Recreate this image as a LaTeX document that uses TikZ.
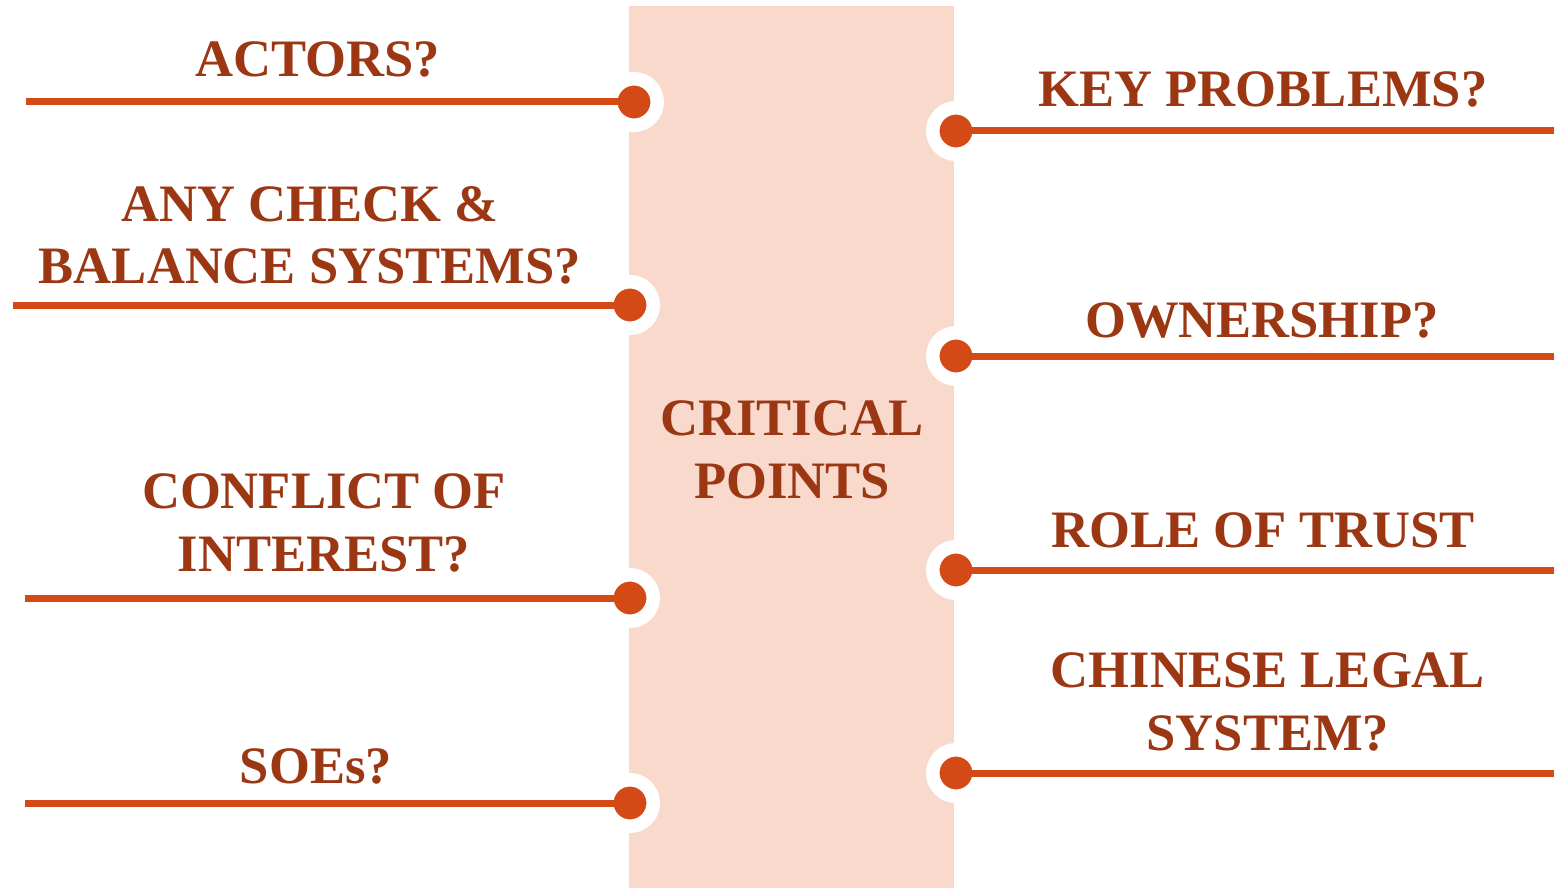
\documentclass[tikz,border=0pt]{standalone}
\usepackage{fontspec}
\setmainfont{Liberation Serif}
\usetikzlibrary{positioning}
\definecolor{bandpink}{HTML}{F8D9CC}
\definecolor{dotorange}{HTML}{D34A17}
\definecolor{textrust}{HTML}{9C3714}
\tikzset{dot/.style={shape=circle, fill=dotorange, draw=white, line width=6.75pt,
    inner sep=0pt, minimum size=23.25pt}}
\tikzset{link/.style={draw=dotorange, line width=3.5pt}}
\tikzset{question/.style={text=textrust, font=\bfseries\fontsize{26.3}{31.5}\selectfont,
    align=center, inner sep=0pt, anchor=base}}

\begin{document}
\begin{tikzpicture}[x=0.5pt, y=-0.5pt]
    \useasboundingbox (0,0) rectangle (1554,888);

    %%%% band
    \path[fill=bandpink] (629,6) rectangle (954,888);

    %%%% Left dots
    \node[dot](l1) at (634,102) {};
    \node[dot](l2) at (630,305) {};
    \node[dot](l3) at (630,598) {};
    \node[dot](l4) at (630,803) {};

    %%%% Right dots
    \node[dot](r1) at (956,131) {};
    \node[dot](r2) at (956,356) {};
    \node[dot](r3) at (956,570) {};
    \node[dot](r4) at (956,773) {};

    %%%% free ends
    \coordinate (le1) at (26,102);
    \coordinate (le2) at (13,305);
    \coordinate (le3) at (25,598);
    \coordinate (le4) at (25,803);
    \coordinate (re1) at (1554,131);
    \coordinate (re2) at (1554,356);
    \coordinate (re3) at (1554,570);
    \coordinate (re4) at (1554,773);

    %%%% Lines
    \draw[link] (le1) -- (l1.center);
    \draw[link] (le2) -- (l2.center);
    \draw[link] (le3) -- (l3.center);
    \draw[link] (le4) -- (l4.center);
    \draw[link] (r1.center) -- (re1);
    \draw[link] (r2.center) -- (re2);
    \draw[link] (r3.center) -- (re3);
    \draw[link] (r4.center) -- (re4);

    %%%% Left texts
    \node[question](actors) at (318,77)  {ACTORS?};
    \node[question](check)  at (310,284) {ANY CHECK \&\\BALANCE SYSTEMS?};
    \node[question](coi)    at (324,571) {CONFLICT OF\\INTEREST?};
    \node[question](soes)   at (316,783) {SOEs?};

    %%%% Centre
    \node[question](crit)   at (792,498) {CRITICAL\\POINTS};

    %%%% Right texts
    \node[question](keyp)   at (1263,107) {KEY PROBLEMS?};
    \node[question](owner)  at (1262,337) {OWNERSHIP?};
    \node[question](trust)  at (1263,547) {ROLE OF TRUST};
    \node[question](legal)  at (1268,750) {CHINESE LEGAL\\SYSTEM?};
\end{tikzpicture}
\end{document}
